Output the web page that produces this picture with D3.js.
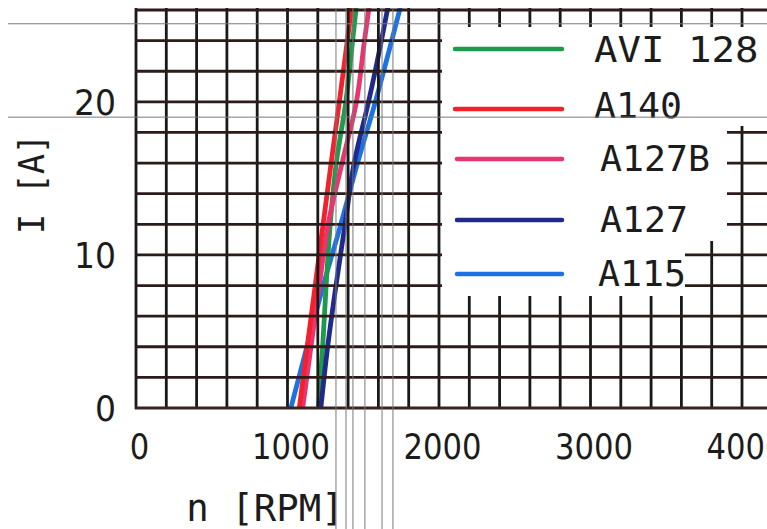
<!DOCTYPE html>
<html>
<head>
<meta charset="utf-8">
<script src="https://cdn.jsdelivr.net/npm/d3@7"></script>
<style>
  html, body { margin: 0; padding: 0; background: #fff; }
  svg { display: block; }
  text { font-family: "DejaVu Sans Mono", monospace; fill: #1c1c1c; }
  .tick text { font-family: "DejaVu Sans", sans-serif; }
</style>
</head>
<body>
<svg id="chart" width="767" height="529"></svg>
<script>
// Motor characteristics: current I [A] against speed n [RPM]

// Current levels at which each curve is sampled
const ampLevels = [0, 4, 8, 12, 16, 20, 24, 26.3];

// Speed of each motor at those current levels
const rpmAVI128 = [1205, 1232, 1255, 1282, 1322, 1385, 1430, 1455];
const rpmA140   = [1078, 1130, 1183, 1235, 1288, 1342, 1395, 1425];
const rpmA127B  = [1100, 1155, 1210, 1268, 1360, 1455, 1508, 1540];
const rpmA127   = [1220, 1265, 1320, 1380, 1440, 1535, 1620, 1665];
const rpmA115   = [1022, 1128, 1236, 1352, 1462, 1580, 1688, 1748];

const seriesNames  = ["AVI 128", "A140", "A127B", "A127", "A115"];
const seriesRpm    = [rpmAVI128, rpmA140, rpmA127B, rpmA127, rpmA115];
const seriesColors = ["#1f9a4c", "#f2212c", "#e9346f", "#1f2a8c", "#1c72e4"];

// Axis tick labels
const xTickValues = [0, 1000, 2000, 3000, 4000];
const yTickValues = [0, 10, 20];

// Ruled reference lines of the sheet (speed / current values)
const refRpm = [1320, 1386, 1432, 1511, 1624, 1696];
const refAmp = [25.1, 19.0];

const W = 767, H = 529;
const svg = d3.select("#chart");

const x = d3.scaleLinear().domain([0, 4000]).range([136, 742]);
const y = d3.scaleLinear().domain([0, 26]).range([408, 10]);

const plotTop = 8, plotLeft = x(0), plotBottom = y(0);

svg.append("rect").attr("width", W).attr("height", H).attr("fill", "#fff");

// clip for the curves
svg.append("clipPath").attr("id", "plotClip")
  .append("rect")
  .attr("x", plotLeft).attr("y", plotTop)
  .attr("width", W - plotLeft).attr("height", plotBottom - plotTop);

// ---- curves ----
const line = d3.line()
  .x(d => x(d[0]))
  .y(d => y(d[1]))
  .curve(d3.curveMonotoneY);

const drawOrder = [4, 0, 3, 2, 1];
const curves = svg.append("g").attr("clip-path", "url(#plotClip)");
drawOrder.forEach(i => {
  const pts = seriesRpm[i].map((r, k) => [r, ampLevels[k]]);
  curves.append("path")
    .attr("d", line(pts))
    .attr("fill", "none")
    .attr("stroke", seriesColors[i])
    .attr("stroke-width", 4.8)
    .attr("stroke-linecap", "round");
});

// ---- grid ----
const grid = svg.append("g");
grid.selectAll("line.v")
  .data(x.ticks(20))
  .join("line")
  .attr("class", "v")
  .attr("x1", d => x(d)).attr("x2", d => x(d))
  .attr("y1", plotBottom + 1).attr("y2", plotTop)
  .attr("stroke", "#1b1818")
  .attr("stroke-width", 2.8);
grid.selectAll("line.h")
  .data(y.ticks(13))
  .join("line")
  .attr("class", "h")
  .attr("x1", plotLeft - 1).attr("x2", W)
  .attr("y1", d => y(d)).attr("y2", d => y(d))
  .attr("stroke", d => d === 0 ? "#3a2222" : "#2c1b1b")
  .attr("stroke-width", 2.8);

// ---- legend panel ----
const legendPanel = [[442, 27], [W, 27], [W, 126], [727, 126], [727, 241],
                     [685, 241], [685, 296], [442, 296]];
svg.append("path")
  .attr("d", d3.line()(legendPanel) + "Z")
  .attr("fill", "#fff");

// legend rows: swatch line y, label x, label baseline
const legendRows = [
  { ly: 49,  tx: 594, ty: 62 },
  { ly: 109, tx: 594, ty: 118 },
  { ly: 159, tx: 600, ty: 171 },
  { ly: 220, tx: 600, ty: 232 },
  { ly: 274, tx: 598, ty: 286 }
];
const legend = svg.append("g");
seriesNames.forEach((name, i) => {
  const r = legendRows[i];
  legend.append("line")
    .attr("x1", i < 2 ? 455 : 457).attr("x2", 562)
    .attr("y1", r.ly).attr("y2", r.ly)
    .attr("stroke", seriesColors[i])
    .attr("stroke-width", 4.5)
    .attr("stroke-linecap", "round");
  legend.append("text")
    .attr("x", r.tx).attr("y", r.ty)
    .attr("font-size", 36)
    .attr("textLength", name.length * (i === 0 ? 23.5 : 22))
    .attr("lengthAdjust", "spacingAndGlyphs")
    .text(name);
});

// ---- ruled reference lines ----
const refs = svg.append("g").attr("stroke", "#7a7a7a").attr("stroke-width", 1);
refs.selectAll("line.rv")
  .data(refRpm)
  .join("line")
  .attr("x1", d => x(d)).attr("x2", d => x(d))
  .attr("y1", plotTop).attr("y2", H);
refs.selectAll("line.rh")
  .data(refAmp)
  .join("line")
  .attr("x1", 8).attr("x2", W)
  .attr("y1", d => y(d)).attr("y2", d => y(d));

// ---- axes ----
const xAxisG = svg.append("g").attr("transform", "translate(3,459)")
  .call(d3.axisBottom(x).tickValues(xTickValues).tickSize(0).tickPadding(0)
        .tickFormat(d3.format("d")));
xAxisG.select(".domain").remove();
xAxisG.selectAll("text")
  .attr("y", 0).attr("dy", null)
  .attr("font-size", 36)
  .attr("textLength", d => String(d).length * 19.5)
  .attr("lengthAdjust", "spacingAndGlyphs");

const yAxisG = svg.append("g").attr("transform", "translate(116,0)")
  .call(d3.axisLeft(y).tickValues(yTickValues).tickSize(0).tickPadding(0)
        .tickFormat(d3.format("d")));
yAxisG.select(".domain").remove();
yAxisG.selectAll("text")
  .attr("x", 0).attr("dy", "0.36em")
  .attr("font-size", 36)
  .attr("textLength", d => String(d).length * 21)
  .attr("lengthAdjust", "spacingAndGlyphs");
xAxisG.attr("font-family", null).attr("font-size", null);
yAxisG.attr("font-family", null).attr("font-size", null);

// ---- axis titles ----
svg.append("text")
  .attr("transform", "translate(44,184) rotate(-90)")
  .attr("text-anchor", "middle")
  .attr("font-size", 36)
  .attr("textLength", 5 * 20)
  .attr("lengthAdjust", "spacingAndGlyphs")
  .text("I [A]");

svg.append("text")
  .attr("x", 265).attr("y", 521)
  .attr("text-anchor", "middle")
  .attr("font-size", 37)
  .attr("textLength", 7 * 22.5)
  .attr("lengthAdjust", "spacingAndGlyphs")
  .text("n [RPM]");
</script>
</body>
</html>
